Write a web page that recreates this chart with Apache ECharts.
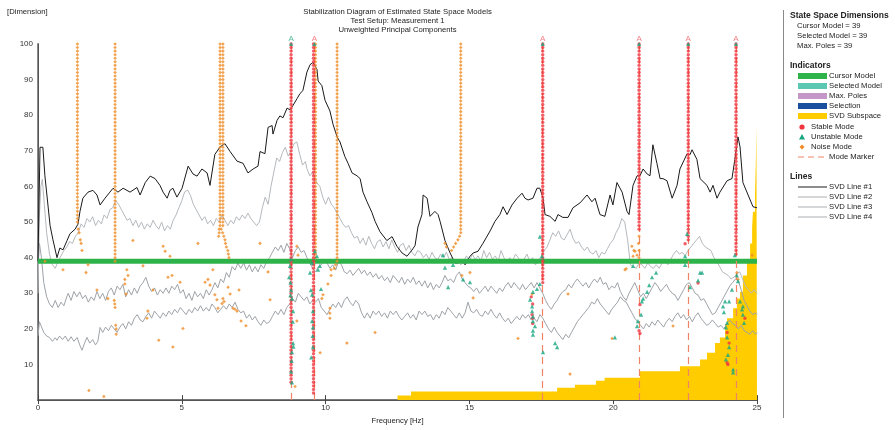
<!DOCTYPE html>
<html><head><meta charset="utf-8">
<script src="https://cdn.jsdelivr.net/npm/echarts@6/dist/echarts.min.js"></script>
<style>html,body{margin:0;padding:0;background:#fff}#c{width:895px;height:430px}</style>
</head><body><div id="c"></div><script>
// ---------------- DATA ----------------
const cursorModel = 39, selectedModel = 39, maxPoles = 39;
const xTicks = [0, 5, 10, 15, 20, 25];
const yTicks = [10, 20, 30, 40, 50, 60, 70, 80, 90, 100];

const svdLine1 = [[0,39],[0.07,71],[0.17,71],[0.24,63],[0.42,49],[0.52,45],[0.66,40],[0.76,42.7],[0.87,42.2],[1.01,44.8],[1.11,46.7],[1.29,48],[1.39,49.4],[1.46,53],[1.56,56.7],[1.74,58.4],[1.91,58.9],[2.05,57.6],[2.16,54.8],[2.33,56.7],[2.5,58.4],[2.61,59.5],[2.78,58.4],[2.96,59.5],[3.2,58.4],[3.44,59.7],[3.55,57.6],[3.73,61.1],[3.9,62.9],[4.07,62.2],[4.24,60.3],[4.35,58.4],[4.49,56.7],[4.59,58.9],[4.69,59.5],[4.83,57],[5.01,59.5],[5.22,65.7],[5.39,63.5],[5.53,62.9],[5.7,64.9],[5.88,63.8],[5.98,60.3],[6.15,69],[6.33,71.1],[6.5,72],[6.68,69.8],[6.92,67.1],[7.13,66.5],[7.3,63.8],[7.48,64.9],[7.65,65.7],[7.72,69.8],[7.89,69.2],[8.0,76.6],[8.14,77.1],[8.17,74.7],[8.31,78.5],[8.41,79.8],[8.52,79.3],[8.66,82],[8.76,81.5],[8.87,82.8],[9.01,84.7],[9.11,86.1],[9.21,86.9],[9.35,92.1],[9.46,94.2],[9.56,94.8],[9.7,92.9],[9.74,89.6],[9.87,88.3],[9.98,84.2],[10.15,81.2],[10.26,77.4],[10.4,73.9],[10.5,72.5],[10.67,68.4],[10.78,66.5],[10.92,63.8],[11.09,63],[11.2,62.2],[11.3,58.4],[11.44,55.7],[11.61,52.7],[11.72,50.2],[11.89,47.3],[12.13,44.8],[12.31,45.9],[12.48,43.2],[12.66,41.3],[12.83,40.4],[13.0,42.1],[13.11,43.4],[13.21,48.6],[13.35,52.1],[13.39,57.6],[13.53,56.7],[13.63,51.6],[13.8,53],[13.91,52.1],[13.98,50.2],[14.15,44.8],[14.33,41.3],[14.5,38.5],[14.6,38.5],[14.74,39.1],[14.85,38],[15.02,40.4],[15.13,41.3],[15.3,41.8],[15.47,44],[15.72,47.5],[15.89,50.2],[16.06,52.1],[16.17,54.3],[16.31,52.1],[16.48,54.8],[16.66,56.7],[16.83,58.1],[16.93,56.7],[17.04,56.2],[17.21,56.7],[17.35,59.5],[17.45,59.5],[17.56,56.7],[17.63,52.1],[17.8,51.6],[17.98,50.2],[18.08,52.1],[18.25,51.3],[18.43,51.3],[18.6,54],[18.85,55.4],[19.09,57.6],[19.26,55.7],[19.37,56.7],[19.54,52.1],[19.71,51.6],[19.89,57.6],[19.99,54.8],[20.13,61.1],[20.31,58.4],[20.48,53],[20.55,52.1],[20.69,60.3],[20.83,63],[20.93,63],[21.04,64.9],[21.18,63.5],[21.28,63],[21.38,71.7],[21.52,66.5],[21.63,62.2],[21.73,62.2],[21.87,61.6],[22.05,56.7],[22.22,60.3],[22.32,64.9],[22.57,69.2],[22.67,68.9],[22.74,70.3],[22.91,67.6],[23.02,62.2],[23.26,60.3],[23.37,58.4],[23.47,60.3],[23.61,56.7],[23.71,58.4],[23.96,61.6],[24.13,62.2],[24.23,67.6],[24.34,73.9],[24.41,71.1],[24.51,61.1],[24.69,57.6],[24.86,54.3],[25,54]];

const svdLine2 = [[0,30],[0.05,52],[0.1,60],[0.15,62],[0.22,55],[0.3,47],[0.4,41],[0.5,38],[0.6,37],[0.7,39],[0.8,40.5],[0.9,42],[1.0,43],[1.1,44.5],[1.2,44],[1.3,46],[1.4,47],[1.5,49.5],[1.6,48.5],[1.7,51],[1.8,50],[1.9,51.5],[2.0,49],[2.1,50.5],[2.2,49.5],[2.3,52],[2.4,51],[2.5,53.5],[2.6,54],[2.7,56],[2.8,55],[2.9,53.5],[3.0,52],[3.1,50.5],[3.2,51],[3.3,49],[3.4,50.5],[3.5,48.5],[3.6,50],[3.7,48],[3.8,49.5],[3.9,48.5],[4.0,50.5],[4.1,49],[4.2,48],[4.3,50],[4.4,47.5],[4.5,49],[4.6,48],[4.7,50.5],[4.8,52],[4.9,54],[5.0,56],[5.1,58.5],[5.2,59],[5.3,57.5],[5.4,55],[5.5,53.5],[5.6,52],[5.7,50.5],[5.8,51.5],[5.9,49.5],[6.0,50.5],[6.1,49],[6.2,51],[6.3,50],[6.4,52],[6.5,50.5],[6.6,49],[6.7,50.5],[6.8,49.5],[6.9,51.5],[7.0,50.5],[7.1,52],[7.2,51],[7.3,52.5],[7.4,51],[7.5,50],[7.6,49],[7.7,50],[7.8,54],[7.9,57],[8.0,55],[8.1,60],[8.2,64],[8.3,68],[8.4,67],[8.5,69.5],[8.6,71],[8.7,68.5],[8.8,70],[8.9,72],[9.0,72.5],[9.1,69],[9.2,66],[9.3,67],[9.35,65],[9.45,63],[9.55,64],[9.65,62],[9.7,61],[9.8,60],[9.9,57],[10.0,55],[10.1,57],[10.2,55],[10.3,54],[10.4,52.5],[10.5,51],[10.6,49.5],[10.7,48.5],[10.8,49],[10.9,47],[11.0,45.5],[11.1,46],[11.2,44],[11.3,45.5],[11.4,43.5],[11.5,46],[11.6,44],[11.7,42.5],[11.8,44.5],[11.9,45],[12.0,43],[12.1,44.5],[12.2,42.5],[12.3,45],[12.4,43],[12.5,41.5],[12.6,43.5],[12.7,44],[12.8,42],[12.9,43.5],[13.0,41.5],[13.1,40.5],[13.2,42],[13.3,41.5],[13.4,40],[13.5,41],[13.6,39.5],[13.7,41.5],[13.8,40],[13.9,39.5],[14.0,41],[14.1,40],[14.2,41.5],[14.3,39.5],[14.4,40],[14.5,38.5],[14.6,39.5],[14.7,38],[14.8,39],[14.9,40.5],[15.0,39],[15.1,41],[15.2,39.5],[15.3,40.5],[15.4,39],[15.5,42],[15.6,40],[15.7,41.5],[15.8,39.5],[15.9,40.5],[16.0,39],[16.1,42],[16.2,40],[16.3,38.5],[16.4,40],[16.5,39],[16.6,41],[16.7,40],[16.8,38.5],[16.9,39.5],[17.0,41],[17.1,39],[17.2,40],[17.3,38],[17.4,39.5],[17.5,40],[17.6,42],[17.7,43],[17.8,45],[17.9,47],[18.0,46],[18.1,47.5],[18.2,45.5],[18.3,45],[18.4,46.5],[18.5,48],[18.6,45.5],[18.7,44],[18.8,44.5],[18.9,43],[19.0,42],[19.1,43],[19.2,41.5],[19.3,41],[19.4,42],[19.5,40],[19.6,41.5],[19.7,41],[19.8,42.5],[19.9,44],[20.0,45],[20.1,47],[20.2,48.5],[20.3,51],[20.4,50],[20.5,45],[20.6,38],[20.7,37.5],[20.8,37],[20.9,38.5],[21.0,38],[21.1,37],[21.2,38.5],[21.3,37.5],[21.4,37],[21.5,38],[21.6,37],[21.7,38.5],[21.8,39],[21.9,38],[22.0,39.5],[22.1,41],[22.2,42],[22.3,41],[22.4,41.5],[22.5,40.5],[22.6,42],[22.7,43],[22.8,44],[22.9,45],[23.0,46],[23.1,44],[23.2,43],[23.3,42.5],[23.4,42],[23.5,40],[23.6,39],[23.7,37.5],[23.8,36],[23.9,35.5],[24.0,35],[24.1,34],[24.2,34.5],[24.3,35.5],[24.4,36],[24.5,34],[24.6,32],[24.7,31],[24.8,30],[24.9,31],[25,30]];

const svdLine3 = [[0,38],[0.05,44],[0.12,40],[0.2,33],[0.3,29],[0.4,27],[0.5,26],[0.6,28],[0.7,26],[0.8,27.5],[0.9,26.5],[1.0,29],[1.05,30],[1.15,28],[1.25,30.5],[1.35,29],[1.45,30.4],[1.55,28.5],[1.65,29.5],[1.75,27.5],[1.85,29],[1.95,28],[2.05,30.5],[2.15,28.5],[2.25,30],[2.35,28],[2.45,30.5],[2.55,31.5],[2.65,29.5],[2.75,32],[2.85,31],[2.95,32.5],[3.05,29],[3.15,31],[3.25,29.5],[3.35,31.5],[3.45,30],[3.55,32],[3.65,33],[3.75,34.5],[3.85,32],[3.95,30.5],[4.05,31.5],[4.15,29.5],[4.25,31],[4.35,30],[4.45,31.5],[4.55,30],[4.65,32],[4.75,31],[4.85,32.5],[4.95,30],[5.05,31],[5.15,28.5],[5.25,30],[5.35,28],[5.45,30.5],[5.55,29],[5.65,30],[5.75,28.5],[5.85,31],[5.95,29.5],[6.05,31],[6.15,33],[6.25,31.5],[6.35,34],[6.45,33],[6.55,35.8],[6.65,34.5],[6.75,37.5],[6.85,36.5],[6.95,38.5],[7.05,37],[7.15,38.5],[7.25,36.5],[7.35,38],[7.45,36],[7.55,37.5],[7.65,36],[7.75,38],[7.85,37],[7.95,39],[8.05,40],[8.15,41.5],[8.25,43],[8.35,42],[8.45,43.5],[8.55,41.5],[8.65,44],[8.75,42.5],[8.85,40],[8.95,42],[9.05,43],[9.15,41.5],[9.25,42],[9.35,40],[9.45,38.5],[9.55,37],[9.65,36],[9.75,37.5],[9.85,38],[9.95,39],[10.05,38.5],[10.15,37],[10.25,38],[10.35,36.5],[10.45,39],[10.55,38],[10.65,36],[10.75,35.5],[10.85,36.5],[10.95,35],[11.05,36],[11.15,37],[11.25,35.5],[11.35,36.5],[11.45,35],[11.55,36],[11.65,34.5],[11.75,35.5],[11.85,34],[11.95,35],[12.05,33.5],[12.15,34.5],[12.25,33],[12.35,35],[12.45,34],[12.55,33],[12.65,34.5],[12.75,32.5],[12.85,34],[12.95,33],[13.05,34.5],[13.15,32.5],[13.25,33.5],[13.35,32],[13.45,33.5],[13.55,31.5],[13.65,33],[13.75,31],[13.85,32.5],[13.95,31.5],[14.05,33],[14.15,35],[14.25,33.5],[14.35,34],[14.45,33],[14.55,35],[14.65,36],[14.75,34],[14.85,33],[14.95,32],[15.05,31.5],[15.15,30.5],[15.25,31.5],[15.35,30],[15.45,31],[15.55,32],[15.65,30.5],[15.75,32],[15.85,31],[15.95,30],[16.05,31.5],[16.15,30.5],[16.25,32],[16.35,33],[16.45,31.5],[16.55,33],[16.65,32],[16.75,31],[16.85,32.5],[16.95,31],[17.05,32],[17.15,33],[17.25,31.5],[17.35,33],[17.45,31.5],[17.55,30],[17.65,28],[17.75,26.5],[17.85,25.5],[17.95,27],[18.05,28],[18.15,29.5],[18.25,30.5],[18.35,31],[18.45,32.5],[18.55,31.5],[18.65,33],[18.75,34],[18.85,33],[18.95,32],[19.05,33],[19.15,31.5],[19.25,33],[19.35,34],[19.45,33],[19.55,34.5],[19.65,32.5],[19.75,33],[19.85,31],[19.95,32],[20.05,31.5],[20.15,33],[20.25,30.5],[20.35,29],[20.45,28],[20.55,30],[20.65,31.5],[20.75,33],[20.85,31],[20.95,29],[21.05,30],[21.15,28.5],[21.25,30],[21.35,31.5],[21.45,33],[21.55,32],[21.65,30.5],[21.75,31.5],[21.85,32.5],[21.95,31],[22.05,30],[22.15,29.5],[22.25,28],[22.35,29.5],[22.45,31],[22.55,32.5],[22.65,33],[22.75,31.5],[22.85,30],[22.95,29.5],[23.05,28],[23.15,28.5],[23.25,27],[23.35,25.5],[23.45,24],[23.55,24.5],[23.65,26],[23.75,27.5],[23.85,29],[23.95,30.5],[24.05,32],[24.15,33],[24.25,34],[24.35,33.5],[24.45,31],[24.55,28],[24.65,26.5],[24.75,25],[24.85,24],[24.95,24.5],[25,24]];

const svdLine4 = [[0,18],[0.05,22],[0.1,21],[0.2,19],[0.3,18],[0.4,17.6],[0.5,16.5],[0.6,17.5],[0.66,16.8],[0.75,18],[0.85,17],[0.95,18],[1.05,16.5],[1.15,17.8],[1.25,16.5],[1.36,17.6],[1.45,15.5],[1.53,14],[1.62,16],[1.7,17.6],[1.8,16],[1.9,17],[2.0,15.5],[2.08,16.5],[2.16,20.4],[2.25,19],[2.35,20.5],[2.45,19.5],[2.55,21],[2.65,20],[2.75,19],[2.85,20.5],[2.95,21.5],[3.05,20],[3.15,22],[3.25,21],[3.35,23],[3.45,24],[3.55,22.5],[3.65,22],[3.75,23.5],[3.85,24.5],[3.95,23],[4.05,25],[4.15,24],[4.25,23],[4.35,24.5],[4.45,23.5],[4.55,25],[4.65,24],[4.75,25.5],[4.85,24.5],[4.95,26],[5.05,25],[5.15,24],[5.25,25.5],[5.35,24.5],[5.45,26],[5.55,25],[5.65,26.5],[5.75,25],[5.85,26],[5.95,25],[6.05,27],[6.15,26],[6.25,24.5],[6.35,25.5],[6.45,26.5],[6.55,25.5],[6.65,27],[6.75,26],[6.85,27.5],[6.95,25.5],[7.05,24.5],[7.15,25],[7.25,23],[7.35,24],[7.45,22.5],[7.55,23.5],[7.65,22],[7.75,21],[7.85,22.5],[7.95,21.5],[8.05,22],[8.15,23.5],[8.25,25],[8.35,24],[8.45,25.5],[8.55,24],[8.65,26],[8.75,27],[8.85,28.5],[8.95,27.5],[9.05,30],[9.15,29],[9.25,28],[9.35,29],[9.45,27],[9.55,28],[9.65,27.5],[9.75,28.5],[9.85,26],[9.95,25],[10.05,24],[10.15,25.5],[10.25,27],[10.35,26],[10.45,27.5],[10.55,26],[10.65,28],[10.75,29],[10.85,27.5],[10.95,26.5],[11.05,28],[11.15,27],[11.25,24.5],[11.35,23],[11.45,24.5],[11.55,23],[11.65,25],[11.75,24],[11.85,25],[11.95,23.5],[12.05,24.5],[12.15,23],[12.25,25],[12.35,24],[12.45,25],[12.55,23.5],[12.65,22.5],[12.75,23.5],[12.85,24.5],[12.95,23],[13.05,24],[13.15,22.5],[13.25,25],[13.35,24],[13.45,25],[13.55,23.5],[13.65,24],[13.75,22.5],[13.85,24],[13.95,23],[14.05,25],[14.15,24],[14.25,26],[14.35,25],[14.45,24],[14.55,23],[14.65,24.5],[14.75,23],[14.85,24.5],[14.95,27.5],[15.05,25],[15.15,24.5],[15.25,25.5],[15.35,24],[15.45,23.5],[15.55,25],[15.65,24],[15.75,25.5],[15.85,24],[15.95,23],[16.05,24.5],[16.15,23],[16.25,22],[16.35,23],[16.45,21.5],[16.55,22.5],[16.65,23.5],[16.75,22.5],[16.85,24],[16.95,23],[17.05,24],[17.15,22.5],[17.25,23],[17.35,22],[17.45,24],[17.55,23],[17.65,21.5],[17.75,20],[17.85,19],[17.95,20.5],[18.05,19],[18.15,18],[18.25,17],[18.35,18.5],[18.45,17.5],[18.55,19],[18.65,20.5],[18.75,22],[18.85,23],[18.95,24],[19.05,25],[19.15,26],[19.25,27.5],[19.35,27],[19.45,28.5],[19.55,27],[19.65,26],[19.75,25],[19.85,24],[19.95,25.5],[20.05,26.5],[20.15,27.5],[20.25,29],[20.35,28],[20.45,27.5],[20.55,26],[20.65,24.5],[20.75,23],[20.85,22],[20.95,21],[21.05,20],[21.15,21.5],[21.25,20.5],[21.35,22],[21.45,21],[21.55,22.5],[21.65,21.5],[21.75,20.5],[21.85,22],[21.95,23],[22.05,22],[22.15,23.5],[22.25,24.5],[22.35,23],[22.45,24],[22.55,22.5],[22.65,23.5],[22.75,22],[22.85,23.5],[22.95,24.5],[23.05,23],[23.15,22],[23.25,21],[23.35,21.5],[23.45,22.5],[23.55,21.5],[23.65,20.5],[23.75,21],[23.85,20],[23.95,21.5],[24.05,22.5],[24.15,21.5],[24.25,21],[24.35,20],[24.45,21],[24.55,19.5],[24.65,19],[24.75,18.5],[24.85,19.5],[24.95,18.5],[25,19]];

// SVD subspace steps: [frequency where step starts, dimension]
const svdSubspace = [[12.5,1.3],[12.97,2.4],[18.05,3.5],[18.67,4.3],[19.4,5.4],[19.7,6.3],[20.93,8.1],[22.32,9.5],[23.02,11.4],[23.26,13.3],[23.54,16],[23.71,17.6],[23.89,21.4],[23.96,23],[24.17,25.8],[24.3,28.5],[24.41,30.4],[24.51,35],[24.65,39.3],[24.76,44],[24.83,48.5],[24.86,52.9],[24.93,57.6],[24.96,67],[24.98,77],[25,77]];

// mode markers (Hz) and whether selected
const modeFreqs = [8.8, 9.61, 17.55, 20.9, 22.61, 24.27];
const modeSelected = [true, false, false, false, false, false];

// stable columns: [freq, fromOrder, toOrder]
const stableColumns = [[8.8,5,100],[9.58,2,100],[17.55,33,100],[20.9,48,100],[22.61,45,100],[24.27,41,100]];
const stablePoints = [[20.93,26.8],[20.9,19.5],[20.93,18.7],[22.5,43.9],[22.95,32.9],[24.58,23],[23.96,19],[24.03,16],[23.96,10.5],[23.99,10],[17.18,24],[17.2,23],[17.2,21.5],[17.2,27],[17.15,29]];

// noise columns: [freq, fromOrder, toOrder]
const noiseColumns = [[1.37,50,100],[2.68,39,100],[6.33,49,100],[6.43,49,100],[9.65,40,100],[10.4,39,100],[14.7,47,100]];
const noisePoints = [[0.24,39],[0.87,36.6],[1.67,35.8],[1.74,38],[2.05,30.9],[2.43,28.5],[3.09,36.6],[3.13,35],[3.02,33.9],[3.02,32.6],[3.06,29.8],[3.3,44.8],[3.65,37.7],[3.82,25],[3.79,23],[4.0,30.9],[4.2,16.8],[4.35,43.2],[4.42,41.8],[4.59,40.4],[4.52,34.5],[4.66,35],[4.69,14.9],[4.94,33.1],[5.04,20.1],[5.56,44],[5.81,33.1],[5.91,33.9],[5.98,32.3],[6.08,36.6],[6.15,29.6],[6.22,28.2],[6.26,25.8],[6.4,27.1],[6.43,28.5],[6.47,27.7],[6.61,31.7],[6.68,29.8],[6.78,25.8],[6.85,25.5],[6.92,25],[6.99,30.9],[7.06,22.2],[7.23,20.9],[1.77,2.7],[2.29,1],
[1.4,48],[1.43,47],[1.47,45],[1.5,44],[1.53,42],[2.65,28],[2.67,27],[2.68,26],[2.7,21],[2.72,20],[2.72,18.5],[6.37,48],[6.42,47],[6.46,46],[6.5,45],[6.52,44],[6.55,43],[6.6,42],[6.62,41],[6.64,40],[6.3,48],[6.3,47],[6.28,46],[14.66,46],[14.6,45],[14.52,44],[14.45,43],[14.38,42],[14.2,43],[14.15,44],
[7.72,44],[8.0,36],[8.07,28.2],[9.0,43.2],[9.04,40.7],[9.0,22.2],[8.94,3.8],[9.81,13.3],[10.74,16],[11.72,19],[10.19,35],[10.08,32.6],[10.15,25.8],[10.15,24.4],[10.15,23],[9.87,28.5],[9.91,29.6],[10.19,36.6],[10.35,38],[10.3,37],
[14.74,35],[15.02,35.8],[15.13,28.7],[16.69,17.3],[17.18,29.8],[18.43,29.8],[18.5,7.3],[19.96,17.3],[20.41,36.6],[20.65,43.2],[20.72,42],[20.69,40.4],[20.76,41.8],[20.83,40.7],[20.45,36.9],[22.08,20.8],[24.3,35.8],[24.34,33.9],[24.83,40.7],[20.9,40],[20.9,42],[20.88,44],[20.9,46]];

const unstablePoints = [[8.8,100],[9.61,100],[17.55,100],[20.9,100],[22.61,100],[24.27,100],
[8.76,37.7],[8.73,34.5],[8.78,33],[8.8,30.9],[8.78,29.5],[8.83,28.5],[8.87,25],[8.86,22],[8.87,16],[8.88,15],[8.83,13.5],[8.82,11],[8.8,8],[8.83,5],[8.8,39.5],
[9.53,38.5],[9.46,35.8],[9.49,30.9],[9.53,29.6],[9.56,25],[9.53,22.2],[9.56,20.4],[9.56,14.9],[9.7,40.4],[9.63,41.8],[9.74,36.6],[9.84,31.2],[9.8,37.7],[9.55,18],[9.5,12],
[14.08,40.7],[14.15,37.2],[14.43,38],[14.78,33.9],[14.26,31.7],[15.02,33.1],
[17.45,45.9],[17.52,40.4],[17.45,32.6],[17.35,31.2],[17.21,30.4],[17.11,28.2],[17.18,26.3],[17.18,25],[17.21,23.5],[17.21,22.2],[17.28,20.8],[17.21,19.5],[17.21,18.4],[17.56,13.5],[17.98,16],[18.05,14.9],[20.06,17.6],
[20.69,37.7],[21.25,32.3],[21.35,34.5],[21.49,35.8],[21.18,30.4],[21.04,28.5],[21.0,27.7],[20.97,24],[20.86,22.2],[20.83,20.8],[22.5,40.4],[22.5,38],[22.57,46.7],[23.02,35.8],[23.09,35.8],[22.95,33.6],[22.67,31.7],[24.23,40.7],[24.3,35],[24.34,33.4],[24.13,31],[24.03,27.7],[23.89,27.7],[23.82,26.3],[23.85,24.7],[24.41,27.7],[24.51,26.3],[24.48,25.5],[24.51,24],[24.55,21.7],[23.96,21.7],[23.92,20.4],[23.96,17.6],[24.03,14.9],[23.99,12.7],[23.92,11.4],[24.17,8.6],[24.17,7.8]];

// ---------------- BUILD ----------------
const FONT = '"Liberation Sans", Arial, sans-serif';
function expandColumns(cols) {
  const out = [];
  cols.forEach(([f, a, b]) => { for (let n = a; n <= b; n++) out.push([f, n]); });
  return out;
}
const stableData = expandColumns(stableColumns).concat(stablePoints);
const noiseData = expandColumns(noiseColumns).concat(noisePoints);

const C_RED = '#f0353f', C_GREEN = '#17a67f', C_ORANGE = '#ef8c26', C_MARK = '#f08466';

const chart = echarts.init(document.getElementById('c'), null, {renderer: 'canvas'});

const g = [];
function txt(x, y, s, opt) {
  opt = opt || {};
  g.push({type: 'text', x: x, y: y, silent: true, style: {text: s, font: (opt.bold ? 'bold ' : '') + (opt.size || 7.7) + 'px ' + FONT, fill: opt.color || '#222', align: opt.align || 'left', verticalAlign: 'middle'}});
}
txt(7, 12, '[Dimension]');
txt(397.5, 12, 'Stabilization Diagram of Estimated State Space Models', {align: 'center'});
txt(397.5, 21, 'Test Setup: Measurement 1', {align: 'center'});
txt(397.5, 29.7, 'Unweighted Principal Components', {align: 'center'});
// legend panel
g.push({type: 'line', silent: true, shape: {x1: 783.5, y1: 10, x2: 783.5, y2: 418}, style: {stroke: '#8a8a8a', lineWidth: 1}});
txt(790, 16, 'State Space Dimensions', {bold: true, size: 8.5});
txt(797, 26, 'Cursor Model = ' + cursorModel);
txt(797, 36, 'Selected Model = ' + selectedModel);
txt(797, 46, 'Max. Poles = ' + maxPoles);
txt(790, 66, 'Indicators', {bold: true, size: 8.5});
const bars = [['Cursor Model', '#2db34a'], ['Selected Model', '#5cc7b2'], ['Max. Poles', '#c497c8'], ['Selection', '#1a4f9f'], ['SVD Subspace', '#ffcc00']];
bars.forEach((b, i) => {
  const y = 76 + i * 10;
  g.push({type: 'rect', silent: true, shape: {x: 798, y: y - 3, width: 29, height: 6}, style: {fill: b[1]}});
  txt(829, y, b[0]);
});
g.push({type: 'circle', silent: true, shape: {cx: 802, cy: 127, r: 2.6}, style: {fill: C_RED}});
txt(811, 127, 'Stable Mode');
g.push({type: 'polygon', silent: true, shape: {points: [[802, 134], [805, 139.5], [799, 139.5]]}, style: {fill: C_GREEN}});
txt(811, 137, 'Unstable Mode');
g.push({type: 'polygon', silent: true, shape: {points: [[802, 144.5], [804.5, 147], [802, 149.5], [799.5, 147]]}, style: {fill: C_ORANGE}});
txt(811, 147, 'Noise Mode');
g.push({type: 'line', silent: true, shape: {x1: 798, y1: 157, x2: 827, y2: 157}, style: {stroke: C_MARK, lineWidth: 1, lineDash: [6, 4]}});
txt(829, 157, 'Mode Marker');
txt(790, 177, 'Lines', {bold: true, size: 8.5});
const lineCols = ['#1a1a1a', '#a9adb1', '#a9adb1', '#a9adb1'];
lineCols.forEach((c, i) => {
  const y = 187 + i * 10;
  g.push({type: 'line', silent: true, shape: {x1: 798, y1: y, x2: 827, y2: y}, style: {stroke: c, lineWidth: 1}});
  txt(829, y, 'SVD Line #' + (i + 1));
});

const option = {
  animation: false,
  backgroundColor: '#fff',
  grid: {left: 38, right: 138, top: 44, bottom: 20, containLabel: false},
  xAxis: [
    {type: 'value', min: 0, max: 25, interval: 5, position: 'bottom',
     name: 'Frequency [Hz]', nameLocation: 'middle', nameGap: 10,
     nameTextStyle: {fontSize: 7.7, color: '#222', fontFamily: FONT},
     axisLine: {show: true, lineStyle: {color: '#7a7a7a', width: 2}},
     axisTick: {show: true, inside: true, length: 5, lineStyle: {color: '#444'}},
     axisLabel: {fontSize: 8, color: '#333', margin: 4, fontFamily: FONT, formatter: v => xTicks.includes(v) ? String(v) : ''},
     splitLine: {show: false}},
    {type: 'value', min: 0, max: 25, interval: 5, position: 'top',
     axisLine: {show: true, lineStyle: {color: '#555', width: 1}},
     axisTick: {show: true, inside: true, length: 4, lineStyle: {color: '#444'}},
     axisLabel: {show: false}, splitLine: {show: false}}
  ],
  yAxis: [
    {type: 'value', min: 0, max: 100, interval: 10,
     axisLine: {show: true, lineStyle: {color: '#8a8a8a', width: 2}},
     axisTick: {show: false},
     axisLabel: {fontSize: 8, color: '#333', margin: 5, fontFamily: FONT, formatter: v => yTicks.includes(v) ? String(v) : ''},
     splitLine: {show: false}},
    {type: 'value', min: 0, max: 100, interval: 10, position: 'right',
     axisLine: {show: true, lineStyle: {color: '#555', width: 1}},
     axisTick: {show: false}, axisLabel: {show: false}, splitLine: {show: false}}
  ],
  graphic: g,
  series: [
    {type: 'line', name: 'SVD Subspace', data: svdSubspace, step: 'end', symbol: 'none', silent: true,
     lineStyle: {opacity: 0}, areaStyle: {color: '#ffcc00', opacity: 1}, z: 1},
    {type: 'line', name: 'SVD Line #4', data: svdLine4, symbol: 'none', silent: true, lineStyle: {color: '#9ea3a8', width: 1}, z: 3,
     markLine: {symbol: 'none', silent: true, label: {show: false}, animation: false,
       lineStyle: {type: [7, 5], color: C_MARK, width: 1.2}, data: modeFreqs.map(f => ({xAxis: f}))}},
    {type: 'line', name: 'SVD Line #3', data: svdLine3, symbol: 'none', silent: true, lineStyle: {color: '#9ea3a8', width: 1}, z: 3},
    {type: 'line', name: 'SVD Line #2', data: svdLine2, symbol: 'none', silent: true, lineStyle: {color: '#b5b9bd', width: 1}, z: 3},
    {type: 'line', name: 'SVD Line #1', data: svdLine1, symbol: 'none', silent: true, lineStyle: {color: '#1a1a1a', width: 1}, z: 3},
    {type: 'line', name: 'Cursor Model', data: [[0, cursorModel], [25, cursorModel]], symbol: 'none', silent: true, lineStyle: {color: '#2db34a', width: 5}, z: 4},
    {type: 'scatter', name: 'Noise Mode', data: noiseData, symbol: 'diamond', symbolSize: 3.6, silent: true, itemStyle: {color: C_ORANGE}, z: 5},
    {type: 'scatter', name: 'Stable Mode', data: stableData, symbol: 'circle', symbolSize: 3.4, silent: true, itemStyle: {color: C_RED}, z: 6},
    {type: 'scatter', name: 'Unstable Mode', data: unstablePoints, symbol: 'triangle', symbolSize: 4.2, silent: true, itemStyle: {color: C_GREEN}, z: 7},
    {type: 'scatter', name: 'Mode Labels', clip: false, silent: true, symbolSize: 0, z: 8,
     data: modeFreqs.map((f, i) => ({value: [f, 100], label: {color: modeSelected[i] ? '#2aa87a' : '#f0606a'}})),
     label: {show: true, position: 'top', distance: 1, formatter: 'A', fontSize: 8, fontFamily: FONT}}
  ]
};
chart.setOption(option);
</script></body></html>
